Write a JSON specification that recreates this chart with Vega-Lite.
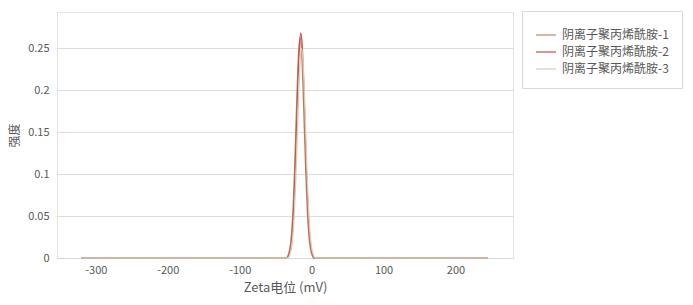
{
  "$schema": "https://vega.github.io/schema/vega-lite/v6.json",
  "width": 456,
  "height": 246,
  "autosize": {"type": "none"},
  "padding": {"left": 57, "top": 12, "right": 180, "bottom": 47},
  "background": "white",
  "config": {
    "font": "Noto Sans CJK SC",
    "view": {"stroke": "#e3e3e3", "strokeWidth": 1}
  },
  "data": {
    "values": [
      {"s": "阴离子聚丙烯酰胺-1", "x": -320, "y": 0},
      {"s": "阴离子聚丙烯酰胺-1", "x": -35, "y": 0},
      {"s": "阴离子聚丙烯酰胺-1", "x": -32, "y": 0.0051},
      {"s": "阴离子聚丙烯酰胺-1", "x": -30, "y": 0.0128},
      {"s": "阴离子聚丙烯酰胺-1", "x": -28, "y": 0.0286},
      {"s": "阴离子聚丙烯酰胺-1", "x": -26, "y": 0.0563},
      {"s": "阴离子聚丙烯酰胺-1", "x": -24, "y": 0.0977},
      {"s": "阴离子聚丙烯酰胺-1", "x": -22, "y": 0.1507},
      {"s": "阴离子聚丙烯酰胺-1", "x": -20, "y": 0.2049},
      {"s": "阴离子聚丙烯酰胺-1", "x": -18, "y": 0.2463},
      {"s": "阴离子聚丙烯酰胺-1", "x": -16, "y": 0.262},
      {"s": "阴离子聚丙烯酰胺-1", "x": -14, "y": 0.2463},
      {"s": "阴离子聚丙烯酰胺-1", "x": -12, "y": 0.2049},
      {"s": "阴离子聚丙烯酰胺-1", "x": -10, "y": 0.1507},
      {"s": "阴离子聚丙烯酰胺-1", "x": -8, "y": 0.0977},
      {"s": "阴离子聚丙烯酰胺-1", "x": -6, "y": 0.0563},
      {"s": "阴离子聚丙烯酰胺-1", "x": -4, "y": 0.0286},
      {"s": "阴离子聚丙烯酰胺-1", "x": -2, "y": 0.0128},
      {"s": "阴离子聚丙烯酰胺-1", "x": 0, "y": 0.0051},
      {"s": "阴离子聚丙烯酰胺-1", "x": 3, "y": 0},
      {"s": "阴离子聚丙烯酰胺-1", "x": 245, "y": 0},
      {"s": "阴离子聚丙烯酰胺-2", "x": -320, "y": 0},
      {"s": "阴离子聚丙烯酰胺-2", "x": -35, "y": 0},
      {"s": "阴离子聚丙烯酰胺-2", "x": -31, "y": 0.0052},
      {"s": "阴离子聚丙烯酰胺-2", "x": -29, "y": 0.0131},
      {"s": "阴离子聚丙烯酰胺-2", "x": -27, "y": 0.0292},
      {"s": "阴离子聚丙烯酰胺-2", "x": -25, "y": 0.0576},
      {"s": "阴离子聚丙烯酰胺-2", "x": -23, "y": 0.1},
      {"s": "阴离子聚丙烯酰胺-2", "x": -21, "y": 0.1541},
      {"s": "阴离子聚丙烯酰胺-2", "x": -19, "y": 0.2096},
      {"s": "阴离子聚丙烯酰胺-2", "x": -17, "y": 0.2519},
      {"s": "阴离子聚丙烯酰胺-2", "x": -15, "y": 0.268},
      {"s": "阴离子聚丙烯酰胺-2", "x": -13, "y": 0.2519},
      {"s": "阴离子聚丙烯酰胺-2", "x": -11, "y": 0.2096},
      {"s": "阴离子聚丙烯酰胺-2", "x": -9, "y": 0.1541},
      {"s": "阴离子聚丙烯酰胺-2", "x": -7, "y": 0.1},
      {"s": "阴离子聚丙烯酰胺-2", "x": -5, "y": 0.0576},
      {"s": "阴离子聚丙烯酰胺-2", "x": -3, "y": 0.0292},
      {"s": "阴离子聚丙烯酰胺-2", "x": -1, "y": 0.0131},
      {"s": "阴离子聚丙烯酰胺-2", "x": 1, "y": 0.0052},
      {"s": "阴离子聚丙烯酰胺-2", "x": 4, "y": 0},
      {"s": "阴离子聚丙烯酰胺-2", "x": 245, "y": 0},
      {"s": "阴离子聚丙烯酰胺-3", "x": -320, "y": 0},
      {"s": "阴离子聚丙烯酰胺-3", "x": -33, "y": 0},
      {"s": "阴离子聚丙烯酰胺-3", "x": -30, "y": 0.0049},
      {"s": "阴离子聚丙烯酰胺-3", "x": -28, "y": 0.0123},
      {"s": "阴离子聚丙烯酰胺-3", "x": -26, "y": 0.0273},
      {"s": "阴离子聚丙烯酰胺-3", "x": -24, "y": 0.0538},
      {"s": "阴离子聚丙烯酰胺-3", "x": -22, "y": 0.0933},
      {"s": "阴离子聚丙烯酰胺-3", "x": -20, "y": 0.1438},
      {"s": "阴离子聚丙烯酰胺-3", "x": -18, "y": 0.1955},
      {"s": "阴离子聚丙烯酰胺-3", "x": -16, "y": 0.235},
      {"s": "阴离子聚丙烯酰胺-3", "x": -14, "y": 0.25},
      {"s": "阴离子聚丙烯酰胺-3", "x": -12, "y": 0.235},
      {"s": "阴离子聚丙烯酰胺-3", "x": -10, "y": 0.1955},
      {"s": "阴离子聚丙烯酰胺-3", "x": -8, "y": 0.1438},
      {"s": "阴离子聚丙烯酰胺-3", "x": -6, "y": 0.0933},
      {"s": "阴离子聚丙烯酰胺-3", "x": -4, "y": 0.0538},
      {"s": "阴离子聚丙烯酰胺-3", "x": -2, "y": 0.0273},
      {"s": "阴离子聚丙烯酰胺-3", "x": 0, "y": 0.0123},
      {"s": "阴离子聚丙烯酰胺-3", "x": 2, "y": 0.0049},
      {"s": "阴离子聚丙烯酰胺-3", "x": 5, "y": 0},
      {"s": "阴离子聚丙烯酰胺-3", "x": 245, "y": 0}
    ]
  },
  "mark": {"type": "line", "strokeWidth": 1.3, "interpolate": "monotone"},
  "encoding": {
    "x": {
      "field": "x",
      "type": "quantitative",
      "scale": {"domain": [-354, 280], "nice": false, "zero": false},
      "axis": {
        "title": "Zeta电位 (mV)",
        "values": [-300, -200, -100, 0, 100, 200],
        "labelExpr": "'' + datum.value",
        "grid": false,
        "domain": true,
        "domainColor": "#d9d9d9",
        "ticks": false,
        "labelPadding": 6,
        "labelFontSize": 11,
        "labelColor": "#595959",
        "titleFontSize": 13,
        "titleFontWeight": "normal",
        "titleColor": "#595959",
        "titlePadding": 6
      }
    },
    "y": {
      "field": "y",
      "type": "quantitative",
      "scale": {"domain": [0, 0.293], "nice": false},
      "axis": {
        "title": "强度",
        "values": [0, 0.05, 0.1, 0.15, 0.2, 0.25],
        "labelExpr": "'' + datum.value",
        "grid": true,
        "gridColor": "#dedede",
        "domain": false,
        "ticks": false,
        "labelPadding": 8,
        "labelFontSize": 11,
        "labelColor": "#595959",
        "titleFontSize": 12,
        "titleFontWeight": "normal",
        "titleColor": "#595959",
        "titlePadding": 6
      }
    },
    "color": {
      "field": "s",
      "type": "nominal",
      "scale": {
        "domain": ["阴离子聚丙烯酰胺-1", "阴离子聚丙烯酰胺-2", "阴离子聚丙烯酰胺-3"],
        "range": ["#b98a62", "#c0504d", "#d9cdb8"]
      },
      "legend": {
        "title": null,
        "orient": "none",
        "legendX": 465,
        "legendY": -1,
        "symbolType": "stroke",
        "symbolSize": 400,
        "symbolStrokeWidth": 1.2,
        "labelFontSize": 12,
        "labelColor": "#595959",
        "labelOffset": 5,
        "rowPadding": -6,
        "padding": 13,
        "strokeColor": "#d9d9d9",
        "fillColor": "white",
        "labelLimit": 200
      }
    }
  }
}
